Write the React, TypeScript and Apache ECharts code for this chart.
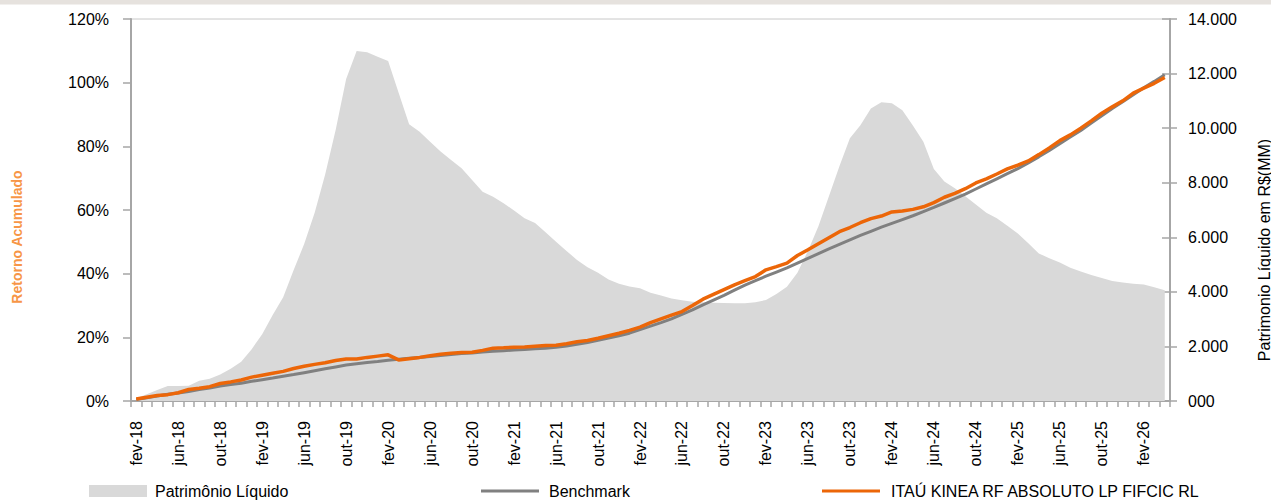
import React, { useEffect, useRef } from "react";
import * as echarts from "echarts";

const MONTHS = ["jan", "fev", "mar", "abr", "mai", "jun", "jul", "ago", "set", "out", "nov", "dez"];
// fev-18 .. abr-26 (99 months)
const categories: string[] = [];
for (let k = 0; k < 99; k++) {
  const m = (1 + k) % 12;
  const y = 18 + Math.floor((1 + k) / 12);
  categories.push(`${MONTHS[m]}-${y}`);
}

// Patrimônio Líquido (R$ MM)
const patrimonio = [
  100, 250, 400, 550, 550, 560, 740, 820, 970, 1180, 1440, 1900,
  2450, 3150, 3800, 4800, 5750, 6900, 8300, 9930, 11800, 12825, 12780, 12620,
  12460, 11300, 10140, 9870, 9500, 9140, 8830, 8530, 8100, 7670, 7490, 7250,
  6980, 6700, 6520, 6180, 5840, 5500, 5170, 4900, 4700, 4450, 4300, 4200,
  4130, 3970, 3870, 3760, 3690, 3640, 3620, 3600, 3590, 3580, 3580, 3620,
  3700, 3920, 4190, 4700, 5500, 6400, 7500, 8600, 9630, 10110, 10720, 10950,
  10910, 10660, 10100, 9500, 8500, 8040, 7800, 7500, 7200, 6900, 6700, 6420,
  6140, 5780, 5410, 5230, 5080, 4880, 4750, 4620, 4510, 4400, 4340, 4300,
  4270, 4170, 4060,
];

// Benchmark (% acumulado)
const benchmark = [
  0.5, 1.0, 1.6, 2.1, 2.5, 3.0, 3.6, 4.1, 4.7, 5.2, 5.6, 6.2,
  6.7, 7.2, 7.8, 8.3, 8.9, 9.5, 10.1, 10.7, 11.3, 11.7, 12.1, 12.4,
  12.8, 13.1, 13.4, 13.7, 14.0, 14.3, 14.6, 14.9, 15.1, 15.4, 15.6, 15.8,
  16.0, 16.2, 16.4, 16.6, 16.9, 17.3, 17.8, 18.4, 19.1, 19.8, 20.5, 21.3,
  22.4, 23.5, 24.6, 25.8, 27.2, 28.6, 30.2, 31.7, 33.2, 34.8, 36.4, 37.8,
  39.2, 40.5, 41.8, 43.3, 44.8, 46.3, 47.8, 49.2, 50.6, 52.0, 53.3, 54.6,
  55.8, 57.0, 58.2, 59.5, 60.8, 62.2, 63.6, 65.0, 66.6, 68.2, 69.8, 71.4,
  73.0, 74.8, 76.7, 78.7, 80.8, 82.9, 85.0, 87.3, 89.6, 91.9, 94.0, 96.2,
  98.4, 100.4, 102.5,
];

// ITAÚ KINEA RF ABSOLUTO LP FIFCIC RL (% acumulado)
const fundo = [
  0.6, 1.2, 1.7, 2.0, 2.6, 3.6, 4.0, 4.5, 5.5, 6.0, 6.6, 7.5,
  8.1, 8.7, 9.3, 10.2, 10.9, 11.5, 12.0, 12.7, 13.2, 13.2, 13.7, 14.1,
  14.5, 12.9, 13.3, 13.7, 14.2, 14.7, 15.0, 15.2, 15.3, 15.9, 16.6, 16.7,
  16.9, 17.0, 17.2, 17.4, 17.5, 18.0, 18.6, 19.0, 19.7, 20.5, 21.3, 22.2,
  23.2, 24.6, 25.8, 27.0, 28.1, 30.0, 32.0, 33.5, 35.0, 36.5, 37.8, 39.1,
  41.2, 42.2, 43.3, 45.7, 47.5, 49.4, 51.3, 53.2, 54.5, 56.0, 57.3, 58.1,
  59.4, 59.7, 60.2, 61.0, 62.3, 64.0, 65.2, 66.7, 68.5, 69.8, 71.3, 72.9,
  74.1, 75.4, 77.4, 79.5, 81.8, 83.6, 85.7, 88.0, 90.4, 92.4, 94.3, 96.7,
  98.3, 99.8, 101.6,
];

const FONT = "'Liberation Sans', Arial, sans-serif";
const AXIS_GRAY = "#a6a6a6";

export default function App() {
  const ref = useRef<HTMLDivElement>(null);
  useEffect(() => {
    if (!ref.current) return;
    const chart = echarts.init(ref.current, undefined, { renderer: "svg" });
    const lineIcon = "path://M0,0H58V3H0Z";
    const legendText = { fontSize: 16, color: "#000", fontFamily: FONT };
    chart.setOption({
      animation: false,
      backgroundColor: "#ffffff",
      textStyle: { fontFamily: FONT },
      grid: {
        left: 131,
        right: 101,
        top: 19,
        bottom: 99,
        show: true,
        borderColor: "#c8c8c8",
        borderWidth: 1,
      },
      graphic: [
        { type: "rect", left: 0, top: 0, shape: { width: 1271, height: 4.5 }, style: { fill: "#e6e2de" }, silent: true },
        {
          type: "text",
          x: 17,
          y: 237,
          rotation: Math.PI / 2,
          style: {
            text: "Retorno Acumulado",
            fill: "#f79646",
            font: `bold 14px ${FONT}`,
            textAlign: "center",
            textVerticalAlign: "middle",
          },
        },
        {
          type: "text",
          x: 1264,
          y: 250,
          rotation: Math.PI / 2,
          style: {
            text: "Patrimonio Líquido em R$(MM)",
            fill: "#000000",
            font: `16px ${FONT}`,
            textAlign: "center",
            textVerticalAlign: "middle",
          },
        },
      ],
      legend: [
        {
          data: [{ name: "Patrimônio Líquido", icon: "rect" }],
          left: 89,
          top: 483,
          padding: 0,
          itemWidth: 58,
          itemHeight: 12,
          textStyle: { ...legendText, padding: [0, 0, 0, 3] },
        },
        {
          data: [{ name: "Benchmark", icon: lineIcon }],
          left: 481,
          top: 483,
          padding: 0,
          itemWidth: 58,
          itemHeight: 3,
          textStyle: { ...legendText, padding: [0, 0, 0, 5] },
        },
        {
          data: [{ name: "ITAÚ KINEA RF ABSOLUTO LP FIFCIC RL", icon: lineIcon }],
          left: 822,
          top: 483,
          padding: 0,
          itemWidth: 58,
          itemHeight: 3,
          textStyle: { ...legendText, padding: [0, 0, 0, 6] },
        },
      ],
      xAxis: {
        type: "category",
        data: categories,
        boundaryGap: true,
        axisLine: { show: true, lineStyle: { color: AXIS_GRAY, width: 2 } },
        axisTick: { show: true, interval: 0, length: 6, lineStyle: { color: AXIS_GRAY, width: 1.5 } },
        axisLabel: {
          interval: 3,
          rotate: 90,
          margin: 20,
          fontSize: 16,
          color: "#000",
          fontFamily: FONT,
        },
        splitLine: { show: false },
      },
      yAxis: [
        {
          type: "value",
          min: 0,
          max: 120,
          interval: 20,
          position: "left",
          axisLine: { show: true, lineStyle: { color: AXIS_GRAY, width: 2 } },
          axisTick: { show: true, length: 8, lineStyle: { color: AXIS_GRAY, width: 1.5 } },
          axisLabel: { formatter: "{value}%", margin: 22, fontSize: 16, color: "#000", fontFamily: FONT },
          splitLine: { show: false },
        },
        {
          type: "value",
          min: 0,
          max: 14000,
          interval: 2000,
          position: "right",
          axisLine: { show: true, lineStyle: { color: AXIS_GRAY, width: 2 } },
          axisTick: { show: true, length: 7, lineStyle: { color: AXIS_GRAY, width: 1.5 } },
          axisLabel: {
            formatter: (v: number) => (v === 0 ? "000" : `${Math.round(v / 1000)}.000`),
            margin: 18,
            fontSize: 16,
            color: "#000",
            fontFamily: FONT,
          },
          splitLine: { show: false },
        },
        {
          type: "value",
          min: 0,
          max: 14000,
          interval: 2000,
          position: "right",
          axisLine: { show: false },
          axisTick: { show: true, inside: true, length: 8, lineStyle: { color: AXIS_GRAY, width: 1.5 } },
          axisLabel: { show: false },
          splitLine: { show: false },
        },
      ],
      series: [
        {
          name: "Patrimônio Líquido",
          type: "line",
          yAxisIndex: 1,
          data: patrimonio,
          symbol: "none",
          color: "#d9d9d9",
          lineStyle: { width: 0, color: "#d9d9d9" },
          areaStyle: { color: "#d9d9d9", opacity: 1 },
          z: 1,
        },
        {
          name: "Benchmark",
          type: "line",
          yAxisIndex: 0,
          data: benchmark,
          symbol: "none",
          color: "#808080",
          lineStyle: { width: 3, color: "#808080" },
          z: 3,
        },
        {
          name: "ITAÚ KINEA RF ABSOLUTO LP FIFCIC RL",
          type: "line",
          yAxisIndex: 0,
          data: fundo,
          symbol: "none",
          color: "#ec6608",
          lineStyle: { width: 3.5, color: "#ec6608" },
          z: 4,
        },
      ],
    });
    return () => chart.dispose();
  }, []);
  return (
    <div
      ref={ref}
      style={{ position: "fixed", left: 0, top: 0, width: 1271, height: 500, background: "#fff" }}
    />
  );
}
